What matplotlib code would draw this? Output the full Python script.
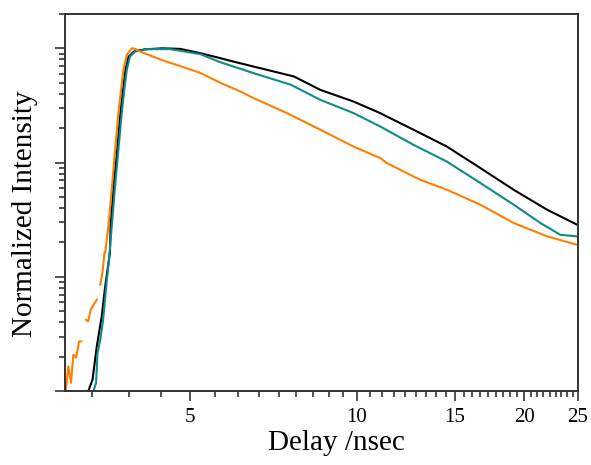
import numpy as np
import matplotlib
matplotlib.use('Agg')
import matplotlib.pyplot as plt
from matplotlib.ticker import FixedLocator, MultipleLocator, NullFormatter, FixedFormatter

plt.rcParams['font.family'] = ['Liberation Serif', 'DejaVu Serif']

# delay (ns) and normalized intensity
black_t = [3.28, 3.34, 3.40, 3.47, 3.52, 3.59, 3.60, 3.645, 3.70, 3.75, 3.79, 3.83, 3.88,
           3.97, 4.15, 4.45, 4.80, 5.22, 5.67, 5.99, 6.51, 6.88, 7.70, 8.59, 9.86,
           11.01, 11.32, 12.64, 13.0, 14.52, 16.68, 19.15, 21.99, 24.9]
black_i = [0.00099, 0.00126, 0.00246, 0.00451, 0.00824, 0.0163, 0.028, 0.0618, 0.129, 0.271,
           0.433, 0.649, 0.848, 0.94, 0.98, 1.0, 0.99, 0.908, 0.821, 0.766, 0.693, 0.649,
           0.567, 0.433, 0.342, 0.271, 0.253, 0.194, 0.181, 0.138, 0.0895, 0.0578, 0.0387,
           0.0286]

teal_t = [3.35, 3.39, 3.41, 3.45, 3.49, 3.545, 3.577, 3.617, 3.667, 3.718, 3.77, 3.81, 3.85,
          3.90, 3.985, 4.10, 4.18, 4.61, 5.22, 5.67, 6.51, 7.60, 8.59, 9.86, 11.01, 12.64,
          14.52, 16.68, 19.15, 21.39, 23.24, 24.9]
teal_i = [0.00099, 0.00118, 0.00217, 0.00282, 0.00421, 0.00944, 0.0141, 0.0276, 0.0618,
          0.129, 0.271, 0.433, 0.649, 0.848, 0.938, 0.96, 0.984, 0.984, 0.89, 0.757, 0.607,
          0.48, 0.354, 0.271, 0.207, 0.143, 0.102, 0.0662, 0.0428, 0.0296, 0.0233, 0.0226]

# NaN marks the gaps in the early part of the orange trace
orange_t = [2.99, 3.02, 3.055, 3.085, 3.12, 3.16, 3.19, np.nan,
            3.25, 3.28, 3.315, 3.40, np.nan,
            3.45, 3.485, 3.51, 3.52, 3.567, 3.617, 3.667, 3.718, 3.76, 3.796, 3.85, 3.93,
            3.985, 4.07, 4.42, 4.80, 5.22, 5.67, 6.16, 6.51, 7.48, 8.59, 9.86, 11.01,
            11.32, 12.64, 13.0, 14.52, 16.68, 19.15, 21.99, 24.9]
orange_i = [0.00099, 0.00164, 0.00118, 0.00208, 0.00196, 0.00272, 0.00272, np.nan,
            0.00421, 0.00407, 0.00515, 0.00631, np.nan,
            0.00853, 0.0115, 0.0163, 0.0162, 0.0276, 0.0578, 0.129, 0.271, 0.433, 0.649,
            0.877, 1.0, 0.99, 0.938, 0.80, 0.70, 0.61, 0.50, 0.42, 0.367, 0.271, 0.194,
            0.138, 0.1095, 0.099, 0.0756, 0.0707, 0.0578, 0.0428, 0.0296, 0.0226, 0.0191]

x_ticks = [5, 10, 15, 20, 25]

fig = plt.figure(figsize=(5.91, 4.65), dpi=100)
ax = fig.add_axes([0.110, 0.159, 0.868, 0.811])

ax.plot(black_t, black_i, color='black', lw=1.5)
ax.plot(teal_t, teal_i, color='#0f8a8a', lw=1.5)
ax.plot(orange_t, orange_i, color='#ff8000', lw=1.5)

ax.set_xscale('log')
ax.set_yscale('log')
ax.set_xlim(2.98, 25)
ax.set_ylim(0.001, 2.0)

ax.xaxis.set_major_locator(FixedLocator(x_ticks))
ax.xaxis.set_major_formatter(FixedFormatter([str(v) for v in x_ticks]))
ax.xaxis.set_minor_locator(MultipleLocator(5 / 9))
ax.xaxis.set_minor_formatter(NullFormatter())
ax.yaxis.set_major_formatter(NullFormatter())
ax.yaxis.set_minor_formatter(NullFormatter())

ax.tick_params(which='both', direction='out', top=False, right=False, color='#333333', width=1.2)
ax.tick_params(which='major', length=7, labelsize=15, pad=5)
ax.tick_params(which='minor', length=4)
for s in ax.spines.values():
    s.set_linewidth(1.4)
    s.set_color('#333333')

ax.set_xlabel('Delay /nsec', fontsize=21)
ax.xaxis.set_label_coords(0.53, -0.102)
ax.set_ylabel('Normalized Intensity', fontsize=21)
ax.yaxis.set_label_coords(-0.052, 0.47)

fig.savefig('out.png', dpi=100)
